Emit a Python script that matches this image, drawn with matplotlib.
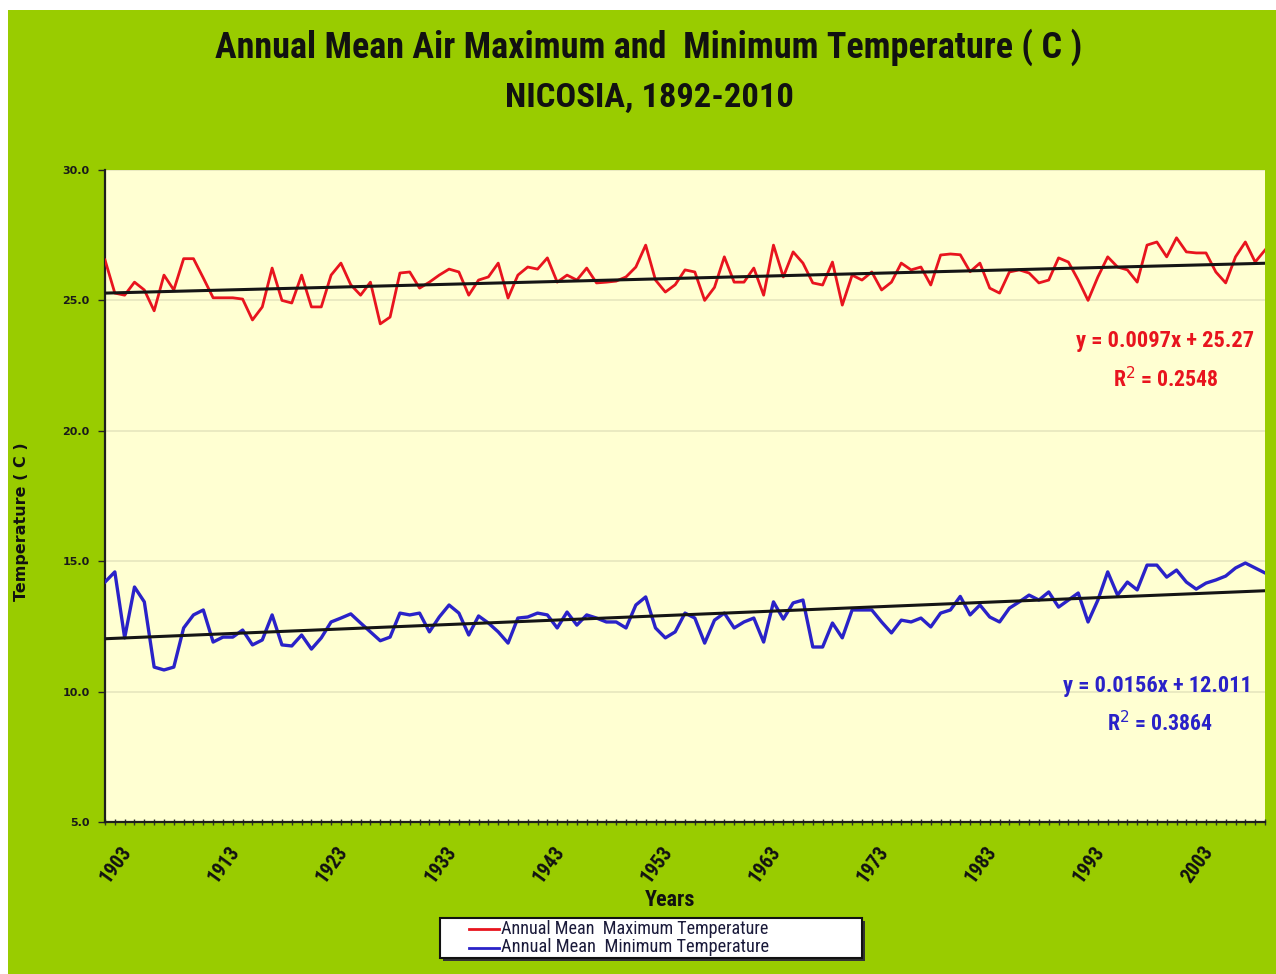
import numpy as np
import matplotlib
matplotlib.use("Agg")
import matplotlib.pyplot as plt
import matplotlib.font_manager as fm
from matplotlib.transforms import ScaledTranslation
from matplotlib.ticker import MultipleLocator, FixedLocator, FormatStrFormatter

# Annual series, Nicosia (one value per year)
years = list(range(1892, 2011))

tmax = [26.55, 25.28, 25.20, 25.70, 25.40, 24.60, 25.97, 25.40, 26.60, 26.60,
        25.86, 25.10, 25.10, 25.10, 25.05, 24.25, 24.75, 26.24, 25.00, 24.90,
        25.97, 24.75, 24.75, 25.97, 26.43, 25.60, 25.20, 25.70, 24.10, 24.36,
        26.05, 26.09, 25.47, 25.70, 25.97, 26.20, 26.09, 25.20, 25.78, 25.90,
        26.43, 25.09, 25.97, 26.28, 26.20, 26.63, 25.70, 25.97, 25.78, 26.24,
        25.67, 25.70, 25.74, 25.90, 26.28, 27.12, 25.78, 25.32, 25.60, 26.17,
        26.09, 25.00, 25.50, 26.67, 25.70, 25.70, 26.24, 25.20, 27.12, 25.90,
        26.86, 26.43, 25.67, 25.59, 26.47, 24.82, 25.97, 25.78, 26.09, 25.40,
        25.70, 26.43, 26.17, 26.28, 25.59, 26.74, 26.78, 26.75, 26.10, 26.43,
        25.47, 25.28, 26.09, 26.17, 26.05, 25.67, 25.78, 26.63, 26.47, 25.78,
        25.00, 25.90, 26.67, 26.28, 26.17, 25.70, 27.12, 27.24, 26.67, 27.40,
        26.86, 26.82, 26.82, 26.09, 25.67, 26.67, 27.24, 26.47, 26.93]

tmin = [14.20, 14.59, 12.06, 14.01, 13.44, 10.94, 10.83, 10.94, 12.44, 12.94,
        13.13, 11.90, 12.09, 12.09, 12.36, 11.79, 11.98, 12.94, 11.79, 11.75,
        12.17, 11.63, 12.06, 12.67, 12.82, 12.98, 12.63, 12.29, 11.95, 12.09,
        13.01, 12.94, 13.01, 12.29, 12.86, 13.32, 13.01, 12.17, 12.90, 12.63,
        12.29, 11.86, 12.82, 12.86, 13.01, 12.94, 12.44, 13.05, 12.55, 12.94,
        12.82, 12.67, 12.67, 12.44, 13.32, 13.63, 12.44, 12.06, 12.29, 13.01,
        12.82, 11.86, 12.74, 13.01, 12.44, 12.67, 12.82, 11.90, 13.44, 12.78,
        13.40, 13.51, 11.71, 11.71, 12.63, 12.06, 13.13, 13.13, 13.13, 12.67,
        12.25, 12.74, 12.67, 12.82, 12.48, 13.01, 13.13, 13.65, 12.94, 13.32,
        12.86, 12.67, 13.20, 13.44, 13.70, 13.51, 13.82, 13.24, 13.51, 13.78,
        12.67, 13.51, 14.59, 13.70, 14.20, 13.90, 14.85, 14.85, 14.39, 14.66,
        14.20, 13.93, 14.16, 14.28, 14.43, 14.74, 14.93, 14.74, 14.55]

# Linear trends as fitted on the series index (x = 1 .. n)
max_slope, max_icept, max_r2 = 0.0097, 25.27, 0.2548
min_slope, min_icept, min_r2 = 0.0156, 12.011, 0.3864

tick_labels = ['1903', '1913', '1923', '1933', '1943', '1953',
               '1963', '1973', '1983', '1993', '2003']
label_step = 11

GREEN = '#99CC00'
PLOT_BG = '#FFFFD2'
RED = '#E8141E'
BLUE = '#2A22C8'


def narrow_font():
    """Pick a condensed sans face if one is installed, else Liberation Sans."""
    names = {f.name for f in fm.fontManager.ttflist}
    for name in ('Liberation Sans Narrow', 'Arial Narrow', 'Roboto Condensed',
                 'Open Sans Condensed', 'DejaVu Sans Condensed', 'Noto Sans Condensed'):
        if name in names:
            return name, 'normal'
    for fam in ('Noto Sans', 'Open Sans', 'Roboto', 'DejaVu Sans', 'Inter', 'Lato'):
        for f in fm.fontManager.ttflist:
            if f.name == fam and f.stretch in ('condensed', 'semi-condensed', 'extra-condensed',
                                               'ultra-condensed', 75, 62.5, 87.5):
                return fam, f.stretch
    return 'Liberation Sans', 'normal'


NARROW_FAM, NARROW_STRETCH = narrow_font()


def nprop(size, weight='bold'):
    return fm.FontProperties(family=[NARROW_FAM, 'DejaVu Sans'], stretch=NARROW_STRETCH,
                             weight=weight, size=size)


W, H = 1276, 974
fig = plt.figure(figsize=(W / 100, H / 100), dpi=100, facecolor='white')
renderer = fig.canvas.get_renderer()


def fit_width(txt, target_px):
    """Scale a text's font size so its rendered width equals target_px."""
    for _ in range(3):
        w = txt.get_window_extent(renderer).width
        if w > 0:
            txt.set_fontsize(txt.get_fontsize() * target_px / w)


# green chart area
fig.patches.append(plt.Rectangle((8 / W, 0.0), 1.0, 1 - 10 / H,
                                 transform=fig.transFigure, facecolor=GREEN,
                                 edgecolor='none', zorder=-10))

L, R, T, B = 105, 1265, 170, 822
ax = fig.add_axes([L / W, 1 - B / H, (R - L) / W, (B - T) / H])
ax.set_facecolor(PLOT_BG)

n = len(years)
idx = np.arange(n)
xfit = idx + 1

ax.plot(idx, tmax, color=RED, lw=2.0, zorder=3, label='Annual Mean  Maximum Temperature')
ax.plot(idx, tmin, color=BLUE, lw=2.4, zorder=3, label='Annual Mean  Minimum Temperature')
ax.plot(idx, max_slope * xfit + max_icept, color='#151515', lw=2.2, zorder=4)
ax.plot(idx, min_slope * xfit + min_icept, color='#151515', lw=2.2, zorder=4)

ax.set_xlim(0, n - 1)
ax.set_ylim(5, 30)

# y axis
ax.yaxis.set_major_locator(MultipleLocator(5))
ax.yaxis.set_major_formatter(FormatStrFormatter('%.1f'))
ax.grid(axis='y', which='major', color='#E6E6BE', lw=1.2, zorder=0)
ax.tick_params(axis='y', which='major', length=5, width=1, color='#222222',
               labelsize=8, pad=6)
for lab in ax.get_yticklabels():
    lab.set_fontweight('bold')
    lab.set_color('#1A1A1A')

# x axis: tick at every year, labels every 11th
ax.set_xticks(idx[::label_step][:len(tick_labels)])
ax.set_xticklabels(tick_labels)
ax.xaxis.set_minor_locator(FixedLocator(idx))
ax.tick_params(axis='x', which='both', direction='inout', length=5, width=1,
               color='#333333')
ax.tick_params(axis='x', which='major', pad=28)
shift = ScaledTranslation(11 / 100, 0, fig.dpi_scale_trans)
for lab in ax.get_xticklabels():
    lab.set_rotation(54)
    lab.set_rotation_mode('anchor')
    lab.set_ha('center')
    lab.set_va('center')
    lab.set_fontproperties(nprop(14))
    lab.set_color('#111111')
    lab.set_transform(lab.get_transform() + shift)
    fit_width(lab, 39)

for s in ('top', 'right'):
    ax.spines[s].set_visible(False)
for s in ('left', 'bottom'):
    ax.spines[s].set_color('#1E1E1E')
    ax.spines[s].set_linewidth(1.6)

# titles and axis labels
t1 = fig.text(649 / W, 1 - 47 / H, 'Annual Mean Air Maximum and  Minimum Temperature ( C )',
              ha='center', va='center', fontproperties=nprop(24), color='#111111')
fit_width(t1, 868)
t2 = fig.text(649 / W, 1 - 98 / H, 'NICOSIA, 1892-2010', ha='center', va='center',
              fontproperties=nprop(24), color='#111111')
fit_width(t2, 288)
fig.text(22 / W, 1 - 522 / H, 'Temperature ( C )', rotation=90, ha='center',
         va='center', fontsize=11.5, fontweight='bold', color='#111111')
ty = fig.text(670 / W, 1 - 900 / H, 'Years', ha='center', va='center',
              fontproperties=nprop(14), color='#111111')
fit_width(ty, 50)

# trend equations
for txt, x, y, ha, col, width in (
        (f'y = {max_slope}x + {max_icept}', 1254, 341, 'right', RED, 178),
        (f'R$^2$ = {max_r2}', 1166, 380, 'center', RED, 106),
        (f'y = {min_slope}x + {min_icept}', 1252, 686, 'right', BLUE, 189),
        (f'R$^2$ = {min_r2}', 1160, 724, 'center', BLUE, 106)):
    t = fig.text(x / W, 1 - y / H, txt, ha=ha, va='center',
                 fontproperties=nprop(15), color=col)
    fit_width(t, width)

# legend: white framed box with the entries set in from the left
fig.patches.append(plt.Rectangle((443 / W, 1 - 961 / H), 422 / W, 40 / H,
                                 transform=fig.transFigure, facecolor='#333333',
                                 edgecolor='none', zorder=5))
fig.patches.append(plt.Rectangle((440 / W, 1 - 958 / H), 422 / W, 40 / H,
                                 transform=fig.transFigure, facecolor='white',
                                 edgecolor='#111111', lw=1.5, zorder=6))
leg = fig.legend(loc='center left', bbox_to_anchor=(469 / W, 1 - 938 / H),
                 ncol=1, frameon=False, handlelength=2.3, handletextpad=0.1,
                 borderaxespad=0, borderpad=0.0, labelspacing=0.05,
                 prop=nprop(9.5, weight='normal'))
leg.set_zorder(7)
for t in leg.get_texts():
    t.set_color('#1A1A3A')
    fit_width(t, 268)
for h in leg.legend_handles:
    h.set_linewidth(2.0)

fig.savefig('out.png', dpi=100, facecolor=fig.get_facecolor())
